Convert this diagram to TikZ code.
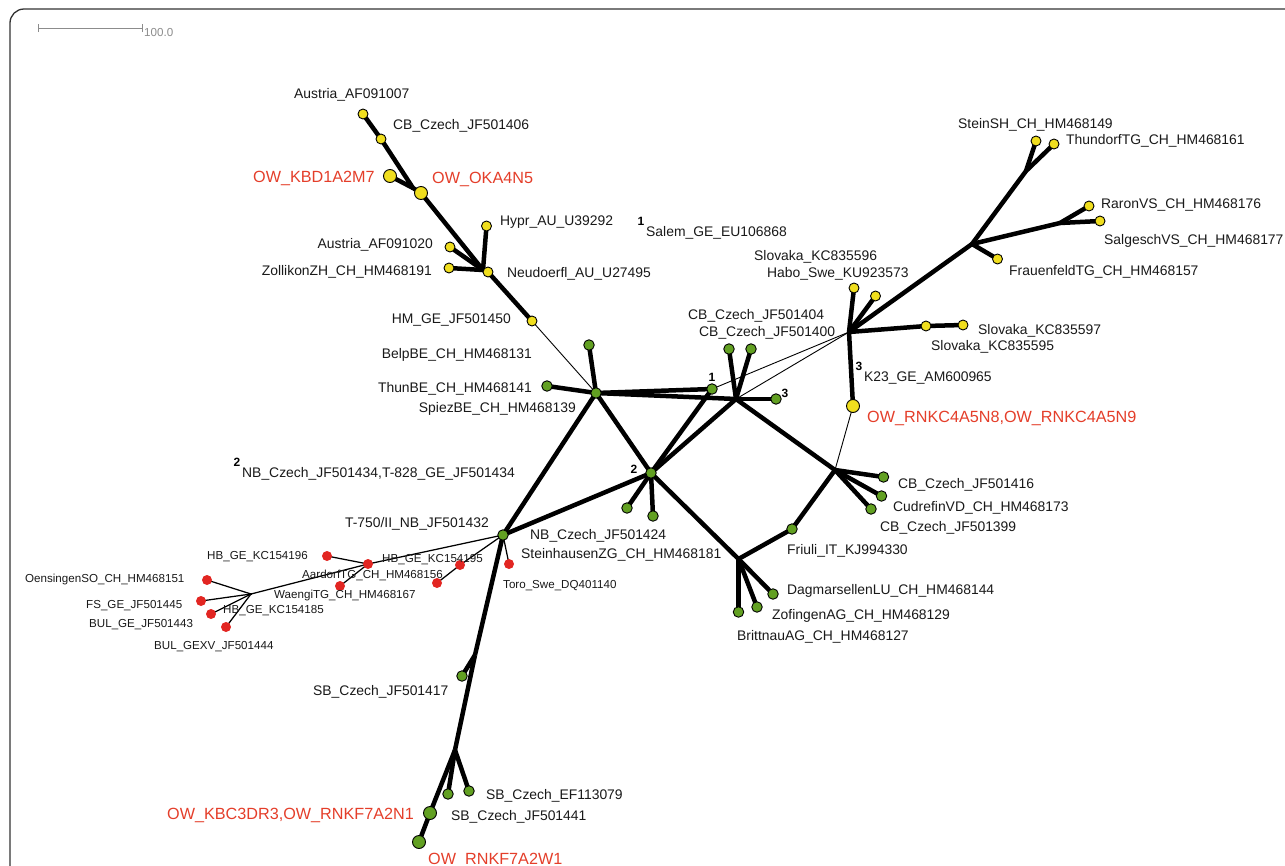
\documentclass[tikz,border=0pt]{standalone}
\usepackage{fontspec}
\setmainfont{Liberation Sans}
\usetikzlibrary{backgrounds}
\definecolor{ylw}{RGB}{240,222,30}
\definecolor{grn}{RGB}{98,160,34}
\definecolor{rdot}{RGB}{226,38,34}
\definecolor{rtxt}{RGB}{228,62,42}
\definecolor{scalegray}{RGB}{140,140,140}
\definecolor{txt}{RGB}{25,25,25}
\tikzset{
 dotY/.style={circle,fill=ylw,draw=black,line width=0.9pt,minimum size=10pt,inner sep=0pt},
 dotYB/.style={dotY,minimum size=13pt},
 dotG/.style={circle,fill=grn,draw=black,line width=0.9pt,minimum size=10.5pt,inner sep=0pt},
 dotGB/.style={dotG,minimum size=13pt},
 dotR/.style={circle,fill=rdot,minimum size=10pt,inner sep=0pt},
 jn/.style={rectangle,fill=black,draw=none,minimum size=2.6pt,inner sep=0pt},
 thk/.style={line width=4.5pt,line join=round},
 thn/.style={line width=0.9pt},
 rln/.style={line width=1.25pt},
 lbl/.style={anchor=base west,inner sep=0pt,font=\fontsize{13.9}{16}\selectfont,text=txt},
 lblr/.style={lbl,anchor=base east},
 olbl/.style={anchor=base west,inner sep=0pt,font=\fontsize{16.2}{19}\selectfont,text=rtxt},
 slbl/.style={anchor=base west,inner sep=0pt,font=\fontsize{11.6}{14}\selectfont,text=txt},
 num/.style={inner sep=0pt,font=\bfseries\fontsize{12}{14}\selectfont},
}
\begin{document}
\begin{tikzpicture}[x=1pt,y=-1pt]
\clip (0,0) rectangle (1285,865);
\draw[line width=1.3pt,draw=black!80,rounded corners=14pt] (10,9) rectangle (1320,900);
% scale bar
\coordinate (sbL) at (38,28);
\coordinate (sbR) at (142,28);
\draw[scalegray,line width=1pt] (sbL) -- (sbR);
\draw[scalegray,line width=1pt] ([yshift=-4pt]sbL) -- ([yshift=4pt]sbL);
\draw[scalegray,line width=1pt] ([yshift=-4pt]sbR) -- ([yshift=4pt]sbR);
\node[slbl,text=scalegray] (sbT) at (144,36.2) {100.0};

% ---- junctions
\node[jn] (j1) at (413,188) {};
\node[jn] (j2) at (483,270) {};
\node[jn] (cj) at (736,399) {};
\node[jn] (rj) at (835,470) {};
\node[jn] (bj) at (738.5,559) {};
\node[jn] (hub) at (849,332) {};
\node[jn] (ja) at (972,244) {};
\node[jn] (jb) at (1026,171) {};
\node[jn] (jc) at (1060,223) {};
\node[jn] (lj) at (251,594) {};
\node[jn] (sj1) at (475,655) {};
\node[jn] (sj2) at (455,750) {};

% ---- yellow
\node[dotY] (a07) at (363,114) {};
\node[dotY] (cb06) at (381,139) {};
\node[dotYB] (kbd) at (390,176) {};
\node[dotYB] (oka) at (421,193) {};
\node[dotY] (hypr) at (486.5,226) {};
\node[dotY] (a20) at (450,247) {};
\node[dotY] (zoll) at (449,268) {};
\node[dotY] (neud) at (488,272) {};
\node[dotY] (hm) at (532,321) {};
\node[dotY] (slo596) at (854,288) {};
\node[dotY] (habo) at (875.5,296) {};
\node[dotY] (slo595) at (926,326) {};
\node[dotY] (slo597) at (963,325) {};
\node[dotY] (stein) at (1036,141) {};
\node[dotY] (thund) at (1054,144) {};
\node[dotY] (raron) at (1089,206) {};
\node[dotY] (salg) at (1100,221) {};
\node[dotY] (frauen) at (997.5,259) {};
\node[dotYB] (rnkc) at (853,406) {};

% ---- green
\node[dotG] (belp) at (589,345) {};
\node[dotG] (thun) at (547,386) {};
\node[dotG] (spiez) at (596,393) {};
\node[dotG] (n1) at (712,389) {};
\node[dotG] (g1) at (729,349) {};
\node[dotG] (g2) at (751,349) {};
\node[dotG] (g3) at (776,399) {};
\node[dotG] (n2) at (651,473) {};
\node[dotG] (n2a) at (627,508) {};
\node[dotG] (n2b) at (653,516) {};
\node[dotG] (t750) at (503,535) {};
\node[dotG] (cb16) at (883.5,477) {};
\node[dotG] (cud) at (881.5,496) {};
\node[dotG] (cb99) at (871,509) {};
\node[dotG] (friuli) at (792,529) {};
\node[dotG] (dag) at (773,594) {};
\node[dotG] (zof) at (757,607) {};
\node[dotG] (brit) at (738.5,612) {};
\node[dotG] (sb417) at (462,676) {};
\node[dotG] (sb079) at (469,791) {};
\node[dotG] (sb441) at (448,794) {};
\node[dotGB] (kbc) at (430,813) {};
\node[dotGB] (w1) at (419,842) {};

% ---- red
\node[dotR] (hb196) at (327,556) {};
\node[dotR] (aard) at (368,564) {};
\node[dotR] (waeng) at (340,586) {};
\node[dotR] (oens) at (207,580) {};
\node[dotR] (fs) at (201,601) {};
\node[dotR] (hb185) at (211,614) {};
\node[dotR] (bulxv) at (226,627) {};
\node[dotR] (hb195a) at (460,565) {};
\node[dotR] (hb195b) at (437,583) {};
\node[dotR] (toro) at (509,564) {};

% ---- edges
\begin{scope}[on background layer]
\draw[thk] (a07.center) -- (cb06.center) -- (j1.center) -- (oka.center) -- (j2.center) -- (neud.center) -- (hm.center);
\draw[thk] (kbd.center) -- (j1.center);
\draw[thk] (a20.center) -- (j2.center);
\draw[thk] (zoll.center) -- (j2.center);
\draw[thk] (hypr.center) -- (j2.center);
\draw[thn] (hm.center) -- (spiez.center);
\draw[thk] (belp.center) -- (spiez.center);
\draw[thk] (thun.center) -- (spiez.center);
\draw[thk] (spiez.center) -- (n1.center);
\draw[thk] (spiez.center) -- (cj.center);
\draw[thk] (n1.center) -- (n2.center);
\draw[thk] (cj.center) -- (n2.center);
\draw[thk] (spiez.center) -- (n2.center);
\draw[thk] (cj.center) -- (g1.center);
\draw[thk] (cj.center) -- (g2.center);
\draw[thk] (cj.center) -- (g3.center);
\draw[thk] (spiez.center) -- (t750.center);
\draw[thk] (n2.center) -- (t750.center);
\draw[thk] (n2.center) -- (n2a.center);
\draw[thk] (n2.center) -- (n2b.center);
\draw[thk] (n2.center) -- (bj.center);
\draw[thk] (cj.center) -- (rj.center);
\draw[thk] (rj.center) -- (cb16.center);
\draw[thk] (rj.center) -- (cud.center);
\draw[thk] (rj.center) -- (cb99.center);
\draw[thk] (rj.center) -- (friuli.center) -- (bj.center);
\draw[thk] (bj.center) -- (dag.center);
\draw[thk] (bj.center) -- (zof.center);
\draw[thk] (bj.center) -- (brit.center);
\draw[thk] (t750.center) -- (sj1.center);
\draw[thk] (sj1.center) -- (sb417.center);
\draw[thk] (sj1.center) -- (sj2.center);
\draw[thk] (sj2.center) -- (sb441.center);
\draw[thk] (sj2.center) -- (sb079.center);
\draw[thk] (sj2.center) -- (kbc.center) -- (w1.center);
\draw[thn] (n1.center) -- (hub.center);
\draw[thn] (cj.center) -- (hub.center);
\draw[thn] (rj.center) -- (rnkc.center);
\draw[thk] (hub.center) -- (slo596.center);
\draw[thk] (hub.center) -- (habo.center);
\draw[thk] (hub.center) -- (slo595.center) -- (slo597.center);
\draw[thk] (hub.center) -- (rnkc.center);
\draw[thk] (hub.center) -- (ja.center);
\draw[thk] (ja.center) -- (frauen.center);
\draw[thk] (ja.center) -- (jc.center);
\draw[thk] (jc.center) -- (raron.center);
\draw[thk] (jc.center) -- (salg.center);
\draw[thk] (ja.center) -- (jb.center);
\draw[thk] (jb.center) -- (stein.center);
\draw[thk] (jb.center) -- (thund.center);
\draw[rln] (t750.center) -- (aard.center);
\draw[rln] (aard.center) -- (hb196.center);
\draw[rln] (aard.center) -- (waeng.center);
\draw[rln] (aard.center) -- (lj.center);
\draw[rln] (lj.center) -- (oens.center);
\draw[rln] (lj.center) -- (fs.center);
\draw[rln] (lj.center) -- (hb185.center);
\draw[rln] (lj.center) -- (bulxv.center);
\draw[rln] (t750.center) -- (hb195a.center) -- (hb195b.center);
\draw[rln] (t750.center) -- (toro.center);
\end{scope}

% ---- labels
\node[lbl] (La07) at (294,98) {Austria\_AF091007};
\node[lbl] (Lcb06) at (393,129) {CB\_Czech\_JF501406};
\node[lbl] (Lhypr) at (500,225) {Hypr\_AU\_U39292};
\node[lblr] (La20) at (433,248) {Austria\_AF091020};
\node[lblr] (Lzoll) at (432,275) {ZollikonZH\_CH\_HM468191};
\node[lbl] (Lneud) at (507,277) {Neudoerfl\_AU\_U27495};
\node[lblr] (Lhm) at (511,323) {HM\_GE\_JF501450};
\node[num] (Ls1) at (641,221) {1};
\node[lbl] (Lsalem) at (646,236) {Salem\_GE\_EU106868};
\node[lblr] (Lbelp) at (532,358) {BelpBE\_CH\_HM468131};
\node[lblr] (Lthun) at (532,392) {ThunBE\_CH\_HM468141};
\node[lblr] (Lspiez) at (576,412) {SpiezBE\_CH\_HM468139};
\node[lbl] (Lg1) at (688,319) {CB\_Czech\_JF501404};
\node[lbl] (Lg2) at (699,336) {CB\_Czech\_JF501400};
\node[num] (Ln1) at (712,377) {1};
\node[num] (Lg3) at (785,393) {3};
\node[num] (Ln2) at (634,469) {2};
\node[lbl] (Lslo596) at (754,260) {Slovaka\_KC835596};
\node[lbl] (Lhabo) at (767,277) {Habo\_Swe\_KU923573};
\node[lbl] (Lstein) at (958,128) {SteinSH\_CH\_HM468149};
\node[lbl] (Lthund) at (1066,144) {ThundorfTG\_CH\_HM468161};
\node[lbl] (Lraron) at (1101,208) {RaronVS\_CH\_HM468176};
\node[lbl] (Lsalg) at (1104,244) {SalgeschVS\_CH\_HM468177};
\node[lbl] (Lfrauen) at (1009,275) {FrauenfeldTG\_CH\_HM468157};
\node[lbl] (Lslo597) at (978,334) {Slovaka\_KC835597};
\node[lbl] (Lslo595) at (931,350) {Slovaka\_KC835595};
\node[num] (Ls3) at (859,366) {3};
\node[lbl] (Lk23) at (864,381) {K23\_GE\_AM600965};
\node[num] (Ls2) at (237,462) {2};
\node[lbl] (Lnb34) at (242,477) {NB\_Czech\_JF501434,T-828\_GE\_JF501434};
\node[lblr] (Lt750) at (489,527) {T-750/II\_NB\_JF501432};
\node[lbl] (Ln2a) at (530,539) {NB\_Czech\_JF501424};
\node[lbl] (Ln2b) at (521,558) {SteinhausenZG\_CH\_HM468181};
\node[lbl] (Lcb16) at (898,488) {CB\_Czech\_JF501416};
\node[lbl] (Lcud) at (893,511) {CudrefinVD\_CH\_HM468173};
\node[lbl] (Lcb99) at (880,531) {CB\_Czech\_JF501399};
\node[lbl] (Lfriuli) at (787,554) {Friuli\_IT\_KJ994330};
\node[lbl] (Ldag) at (787,594) {DagmarsellenLU\_CH\_HM468144};
\node[lbl] (Lzof) at (772,619) {ZofingenAG\_CH\_HM468129};
\node[lbl] (Lbrit) at (737,640) {BrittnauAG\_CH\_HM468127};
\node[lbl] (Lsb417) at (313,695) {SB\_Czech\_JF501417};
\node[lbl] (Lsb079) at (486,799) {SB\_Czech\_EF113079};
\node[lbl] (Lsb441) at (451,820) {SB\_Czech\_JF501441};
% red labels
\node[olbl] (Lkbd) at (253,182) {OW\_KBD1A2M7};
\node[olbl] (Loka) at (432,183) {OW\_OKA4N5};
\node[olbl] (Lrnkc) at (867,422) {OW\_RNKC4A5N8,OW\_RNKC4A5N9};
\node[olbl] (Lkbc) at (167,819) {OW\_KBC3DR3,OW\_RNKF7A2N1};
\node[olbl] (Lw1) at (428,864) {OW\_RNKF7A2W1};
% small labels
\node[slbl] (Lhb196) at (207,559) {HB\_GE\_KC154196};
\node[slbl] (Lhb195) at (382,562) {HB\_GE\_KC154195};
\node[slbl] (Laard) at (302,578) {AardorfTG\_CH\_HM468156};
\node[slbl] (Lwaeng) at (274,598) {WaengiTG\_CH\_HM468167};
\node[slbl] (Loens) at (25,582) {OensingenSO\_CH\_HM468151};
\node[slbl] (Lfs) at (86,608) {FS\_GE\_JF501445};
\node[slbl] (Lhb185) at (223,613) {HB\_GE\_KC154185};
\node[slbl] (Lbul43) at (89,627) {BUL\_GE\_JF501443};
\node[slbl] (Lbulxv) at (154,649) {BUL\_GEXV\_JF501444};
\node[slbl] (Ltoro) at (503,588) {Toro\_Swe\_DQ401140};
\end{tikzpicture}
\end{document}
